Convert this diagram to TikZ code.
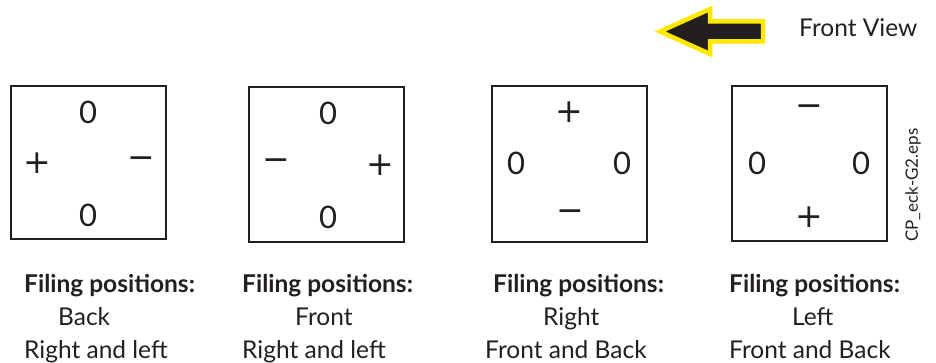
\documentclass[tikz,border=0pt]{standalone}
\usepackage{fontspec}
\setmainfont{Lato}
\newfontfamily\symfont{DejaVu Sans}
\definecolor{ink}{RGB}{35,31,32}
\definecolor{arrowyellow}{RGB}{255,232,0}
\begin{document}
\begin{tikzpicture}[x=1pt,y=-1pt,
  sq/.style={draw=ink,line width=2.6pt},
  digit/.style={inner sep=0pt,text=ink,font=\fontsize{31}{31}\selectfont},
  sym/.style={inner sep=0pt,text=ink,font=\symfont\fontsize{33}{33}\selectfont},
  capt/.style={anchor=base west,inner sep=0pt,text=ink,font=\fontsize{24.5}{24.5}\selectfont},
  captb/.style={capt,font=\bfseries\fontsize{24.5}{24.5}\selectfont}]
\useasboundingbox (0,0) rectangle (936,363);
% arrow
\draw[arrowyellow,line width=4.5pt,fill=ink,line join=miter]
  (660,31.5) -- (710,9) -- (710,21.5) -- (763,21.5) -- (763,41.5) -- (710,41.5) -- (710,54) -- cycle;
\node[anchor=base west,inner sep=0pt,text=ink,font=\fontsize{24.5}{24.5}\selectfont] (fv) at (799,37) {Front View};
% boxes
\draw[sq] (11,86) rectangle (166,239);
\node[digit] (a1) at (88,112) {0};
\node[digit] (a2) at (88,215) {0};
\node[sym] (a3) at (37,163) {+};
\node[sym] (a4) at (141,163) {−};
\draw[sq] (249,87) rectangle (404,242);
\node[digit] (b1) at (328,113) {0};
\node[digit] (b2) at (328,217) {0};
\node[sym] (b3) at (276,165) {−};
\node[sym] (b4) at (380,165) {+};
\draw[sq] (492,86) rectangle (647,242);
\node[sym] (c1) at (569,112) {+};
\node[sym] (c2) at (570,216) {−};
\node[digit] (c3) at (516,163) {0};
\node[digit] (c4) at (622,163) {0};
\draw[sq] (732,86) rectangle (887,241);
\node[sym] (d1) at (809,111) {−};
\node[sym] (d2) at (809,217) {+};
\node[digit] (d3) at (757,163) {0};
\node[digit] (d4) at (861,163) {0};
% file label
\node[rotate=90,inner sep=0pt,text=ink,font=\fontsize{17}{17}\selectfont] (fn) at (913,185) {CP\_eck-G2.eps};
% captions
\node[captb] (t1a) at (24,292) {Filing positions:};
\node[capt] (t1b) at (58,325) {Back};
\node[capt] (t1c) at (24,358) {Right and left};
\node[captb] (t2a) at (242,292) {Filing positions:};
\node[capt] (t2b) at (295,325) {Front};
\node[capt] (t2c) at (242,358) {Right and left};
\node[captb] (t3a) at (493,292) {Filing positions:};
\node[capt] (t3b) at (543,325) {Right};
\node[capt] (t3c) at (485,358) {Front and Back};
\node[captb] (t4a) at (729,292) {Filing positions:};
\node[capt] (t4b) at (792,325) {Left};
\node[capt] (t4c) at (729,358) {Front and Back};
\end{tikzpicture}
\end{document}
